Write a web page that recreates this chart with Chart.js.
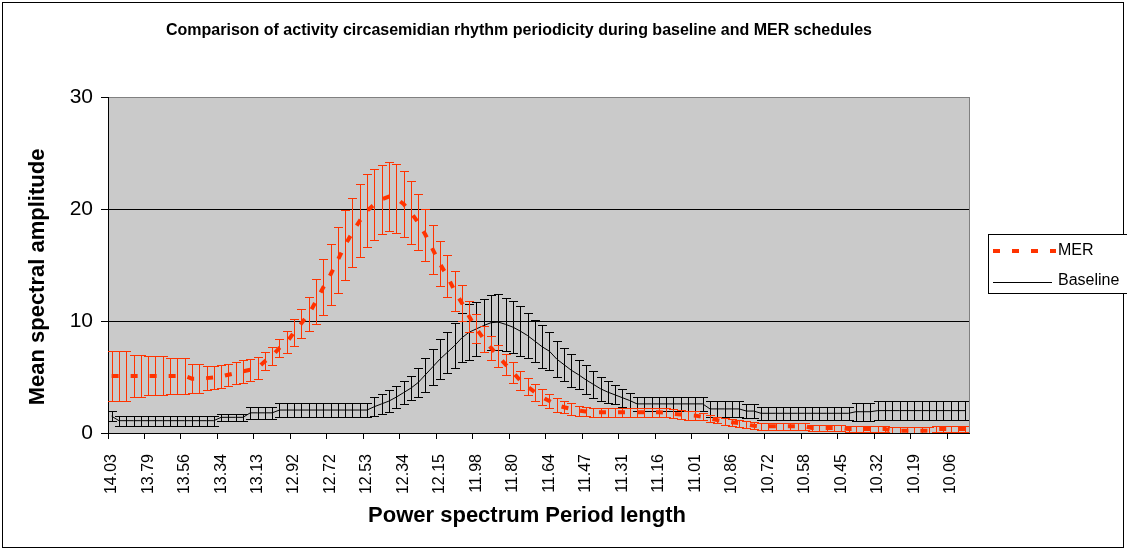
<!DOCTYPE html>
<html>
<head>
<meta charset="utf-8">
<script src="https://cdn.jsdelivr.net/npm/chart.js@4.4.0/dist/chart.umd.min.js"></script>
<style>
html,body{margin:0;padding:0;background:#fff;}
#wrap{width:1127px;height:550px;position:relative;}
</style>
</head>
<body>
<div id="wrap"><canvas id="c" width="1127" height="550"></canvas></div>
<script>
// ---- Data ----
const periods = [
"14.03","13.98","13.93","13.89","13.84","13.79","13.75","13.70","13.66","13.61",
"13.56","13.52","13.48","13.43","13.39","13.34","13.30","13.26","13.21","13.17",
"13.13","13.09","13.05","13.00","12.96","12.92","12.88","12.84","12.80","12.76",
"12.72","12.68","12.64","12.60","12.56","12.53","12.49","12.45","12.41","12.37",
"12.34","12.30","12.26","12.23","12.19","12.15","12.12","12.08","12.05","12.01",
"11.98","11.94","11.91","11.87","11.84","11.80","11.77","11.73","11.70","11.67",
"11.64","11.60","11.57","11.54","11.50","11.47","11.44","11.41","11.38","11.34",
"11.31","11.28","11.25","11.22","11.19","11.16","11.13","11.10","11.07","11.04",
"11.01","10.98","10.95","10.92","10.89","10.86","10.83","10.80","10.78","10.75",
"10.72","10.69","10.66","10.64","10.61","10.58","10.55","10.53","10.50","10.47",
"10.45","10.42","10.39","10.37","10.34","10.32","10.29","10.26","10.24","10.21",
"10.19","10.16","10.13","10.11","10.08","10.06","10.04","10.01"
];

const merMean = [
5.1,5.1,5.1,5.1,5.1,5.1,5.1,5.1,5.1,5.1,
5.1,4.85,4.85,4.9,4.95,5.05,5.2,5.35,5.5,5.65,
5.8,6.4,6.9,7.6,8.1,9.0,9.8,10.6,11.75,13.0,
14.15,15.45,16.8,17.9,18.95,19.85,20.4,20.85,21.1,20.95,
20.45,19.7,18.8,17.7,16.4,15.1,14.0,12.7,11.6,10.4,
9.3,8.4,7.6,6.85,6.1,5.4,4.7,4.15,3.65,3.2,
2.85,2.5,2.3,2.15,2.0,1.92,1.85,1.85,1.85,1.85,
1.85,1.85,1.85,1.85,1.85,1.85,1.8,1.7,1.65,1.6,
1.55,1.45,1.3,1.15,1.05,0.95,0.88,0.75,0.65,0.6,
0.6,0.6,0.6,0.6,0.6,0.6,0.45,0.45,0.45,0.45,
0.45,0.35,0.35,0.35,0.35,0.35,0.35,0.2,0.2,0.2,
0.2,0.2,0.2,0.35,0.35,0.35,0.35,0.35
];

const merErr = [
2.2,2.2,2.2,1.9,1.9,1.75,1.75,1.75,1.6,1.6,
1.6,1.3,1.3,1.05,1.05,1.0,1.0,1.0,1.0,1.0,
1.0,0.8,0.8,0.8,1.0,1.2,1.3,1.5,2.0,2.5,
2.75,2.95,3.1,3.1,3.25,3.25,3.15,3.05,3.1,3.05,
2.95,2.8,2.5,2.3,2.2,2.0,1.9,1.8,1.6,1.4,
1.3,1.15,1.05,1.0,0.95,0.9,0.85,0.8,0.75,0.7,
0.65,0.6,0.55,0.5,0.45,0.4,0.4,0.4,0.4,0.4,
0.4,0.4,0.4,0.4,0.4,0.4,0.4,0.4,0.4,0.4,
0.4,0.3,0.3,0.3,0.3,0.3,0.3,0.3,0.3,0.3,
0.3,0.3,0.3,0.3,0.3,0.3,0.3,0.3,0.3,0.3,
0.3,0.3,0.3,0.3,0.3,0.3,0.3,0.3,0.3,0.3,
0.3,0.3,0.3,0.3,0.3,0.3,0.3,0.3
];

const baseMean = [
1.5,1.1,1.1,1.1,1.1,1.1,1.1,1.1,1.1,1.1,
1.1,1.1,1.1,1.1,1.1,1.4,1.4,1.4,1.4,1.8,
1.8,1.8,1.8,2.05,2.05,2.05,2.05,2.05,2.05,2.05,
2.05,2.05,2.05,2.05,2.05,2.05,2.35,2.6,2.85,3.2,
3.6,4.0,4.5,5.2,5.9,6.6,7.2,7.8,8.5,9.0,
9.3,9.6,9.85,9.9,9.7,9.45,9.1,8.7,8.2,7.7,
7.3,6.6,6.1,5.6,5.2,4.75,4.35,3.95,3.65,3.4,
3.15,2.9,2.6,2.6,2.6,2.6,2.6,2.6,2.6,2.6,
2.6,2.6,2.15,2.15,2.15,2.15,2.15,1.96,1.96,1.76,
1.76,1.76,1.76,1.76,1.76,1.76,1.76,1.76,1.76,1.76,
1.76,1.76,1.9,1.9,1.9,2.0,2.0,2.0,2.0,2.0,
2.0,2.0,2.0,2.0,2.0,2.0,2.0,2.0
];

const baseErr = [
0.45,0.45,0.45,0.45,0.45,0.45,0.45,0.45,0.45,0.45,
0.45,0.45,0.45,0.45,0.45,0.3,0.3,0.3,0.3,0.55,
0.55,0.55,0.55,0.65,0.65,0.65,0.65,0.65,0.65,0.65,
0.65,0.65,0.65,0.65,0.65,0.65,0.85,0.9,0.95,1.0,
1.0,1.05,1.3,1.5,1.6,1.75,1.8,2.0,2.2,2.5,
2.4,2.4,2.45,2.5,2.35,2.3,2.2,2.0,1.9,1.9,
1.7,1.6,1.5,1.45,1.3,1.3,1.2,1.05,0.95,0.85,
0.8,0.7,0.6,0.6,0.6,0.6,0.6,0.6,0.6,0.6,
0.6,0.6,0.75,0.75,0.75,0.75,0.75,0.6,0.6,0.6,
0.6,0.6,0.6,0.6,0.6,0.6,0.6,0.6,0.6,0.6,
0.6,0.6,0.8,0.8,0.8,0.85,0.85,0.85,0.85,0.85,
0.85,0.85,0.85,0.85,0.85,0.85,0.85,0.85
];

const yTickValues = [0, 10, 20, 30];
const labelEvery = 5;

const titleText = "Comparison of activity circasemidian rhythm periodicity during baseline and MER schedules";
const xTitle = "Power spectrum Period length";
const yTitle = "Mean spectral amplitude";
const seriesNames = ["MER", "Baseline"];
const seriesColors = ["#FF3300", "#000000"];

// ---- Chart ----
const FONT = "'Liberation Sans', Arial, Helvetica, sans-serif";
Chart.defaults.font.family = FONT;
Chart.defaults.color = "#000";

const errorSets = [merErr, baseErr];
const meanSets = [merMean, baseMean];

const decorPlugin = {
  id: 'decor',
  beforeDraw(chart) {
    const {ctx, chartArea: a} = chart;
    ctx.save();
    ctx.fillStyle = '#fff';
    ctx.fillRect(0, 0, chart.width, chart.height);
    ctx.fillStyle = '#CACACA';
    ctx.fillRect(a.left, a.top, a.right - a.left, a.bottom - a.top);
    ctx.restore();
  },
  beforeDatasetDraw(chart, args) {
    const i = args.index;
    const errs = errorSets[i], means = meanSets[i];
    const {ctx, chartArea: a} = chart;
    const ys = chart.scales.y;
    const cap = 4.5;
    ctx.save();
    ctx.beginPath();
    ctx.rect(a.left, a.top - 1, a.right - a.left, a.bottom - a.top + 1);
    ctx.clip();
    ctx.strokeStyle = seriesColors[i];
    ctx.lineWidth = 1;
    args.meta.data.forEach((pt, k) => {
      const x = Math.round(pt.x) + 0.5;
      const yt = Math.round(ys.getPixelForValue(means[k] + errs[k])) + 0.5;
      const yb = Math.round(ys.getPixelForValue(means[k] - errs[k])) + 0.5;
      ctx.beginPath();
      ctx.moveTo(x, yt); ctx.lineTo(x, yb);
      ctx.moveTo(x - cap, yt); ctx.lineTo(x + cap, yt);
      ctx.moveTo(x - cap, yb); ctx.lineTo(x + cap, yb);
      ctx.stroke();
    });
    ctx.restore();
  },
  afterDraw(chart) {
    const {ctx, chartArea: a} = chart;
    ctx.save();
    // plot border (right) in gray
    ctx.strokeStyle = '#808080';
    ctx.lineWidth = 1;
    ctx.beginPath();
    ctx.moveTo(Math.round(a.right) + 0.5, a.top);
    ctx.lineTo(Math.round(a.right) + 0.5, a.bottom);
    ctx.stroke();
    // outer chart border
    ctx.strokeStyle = '#000';
    ctx.strokeRect(2.5, 2.5, 1121, 545);
    // chart title
    ctx.fillStyle = '#000';
    ctx.textAlign = 'center';
    ctx.textBaseline = 'middle';
    ctx.font = "bold 16px " + FONT;
    ctx.fillText(titleText, 519, 31);
    // axis titles
    ctx.font = "bold 22px " + FONT;
    ctx.fillText(xTitle, 527, 516);
    ctx.save();
    ctx.translate(38, 277);
    ctx.rotate(-Math.PI / 2);
    ctx.fillText(yTitle, 0, 0);
    ctx.restore();
    // legend
    ctx.fillStyle = '#fff';
    ctx.fillRect(988.5, 234.5, 150, 59);
    ctx.strokeStyle = '#000';
    ctx.strokeRect(988.5, 234.5, 150, 59);
    ctx.strokeStyle = seriesColors[0];
    ctx.lineWidth = 4;
    ctx.setLineDash([7, 12]);
    ctx.beginPath();
    ctx.moveTo(993, 251); ctx.lineTo(1056, 251);
    ctx.stroke();
    ctx.setLineDash([]);
    ctx.strokeStyle = seriesColors[1];
    ctx.lineWidth = 1;
    ctx.beginPath();
    ctx.moveTo(993, 282.5); ctx.lineTo(1052, 282.5);
    ctx.stroke();
    ctx.fillStyle = '#000';
    ctx.textAlign = 'left';
    ctx.font = "16px " + FONT;
    ctx.fillText(seriesNames[0], 1058, 251);
    ctx.fillText(seriesNames[1], 1058, 281);
    ctx.restore();
  }
};

new Chart(document.getElementById('c'), {
  type: 'line',
  data: {
    labels: periods,
    datasets: [
      {
        label: seriesNames[0],
        data: merMean,
        borderColor: seriesColors[0],
        borderWidth: 4,
        borderDash: [7, 12],
        pointRadius: 0,
        fill: false,
        tension: 0
      },
      {
        label: seriesNames[1],
        data: baseMean,
        borderColor: seriesColors[1],
        borderWidth: 1,
        pointRadius: 0,
        fill: false,
        tension: 0
      }
    ]
  },
  options: {
    responsive: false,
    animation: false,
    devicePixelRatio: 1,
    layout: { padding: { left: 0, top: 97, right: 158, bottom: 0 } },
    plugins: {
      legend: { display: false },
      title: { display: false },
      tooltip: { enabled: false }
    },
    scales: {
      x: {
        type: 'category',
        offset: true,
        afterFit(scale) { scale.height = 117; },
        grid: {
          offset: true,
          drawOnChartArea: false,
          drawTicks: true,
          tickLength: 6,
          color: ctx => (ctx.index !== undefined && ctx.index % labelEvery === 0) ? '#000' : 'rgba(0,0,0,0)'
        },
        border: { display: true, color: '#000', width: 1 },
        ticks: {
          autoSkip: false,
          maxRotation: 90,
          minRotation: 90,
          padding: 15,
          color: '#000',
          font: { size: 16 },
          callback: function (value, index) {
            return index % labelEvery === 0 ? this.getLabelForValue(value) : '';
          }
        }
      },
      y: {
        min: 0,
        max: 30,
        afterFit(scale) { scale.width = 108; },
        afterBuildTicks(scale) { scale.ticks = yTickValues.map(v => ({ value: v })); },
        grid: {
          color: ctx => (ctx.tick && ctx.tick.value === 30) ? '#808080' : '#000',
          tickColor: '#000',
          tickLength: 7,
          lineWidth: 1
        },
        border: { display: true, color: '#000', width: 1 },
        ticks: {
          padding: 8,
          color: '#000',
          font: { size: 21 }
        }
      }
    }
  },
  plugins: [decorPlugin]
});
</script>
</body>
</html>
